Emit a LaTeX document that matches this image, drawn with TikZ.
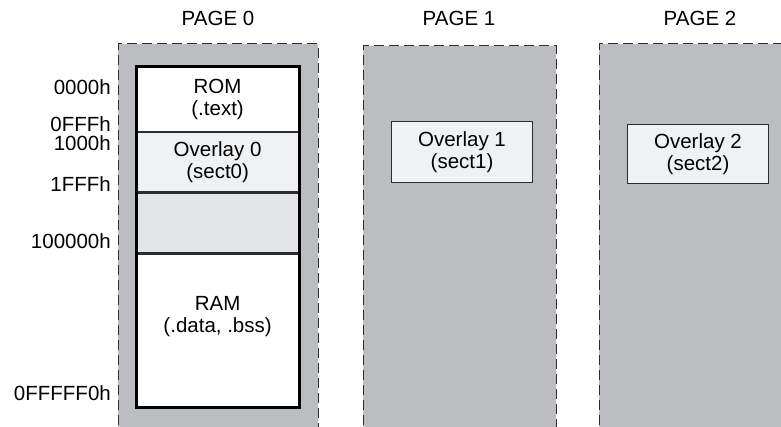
\documentclass[tikz,border=0pt]{standalone}
\usepackage{fontspec}
\setmainfont{Liberation Sans}
\usetikzlibrary{positioning}

\definecolor{pagegray}{RGB}{188,189,193}
\definecolor{ovlgray}{RGB}{240,241,243}
\definecolor{gapgray}{RGB}{228,229,231}
\definecolor{edgegray}{RGB}{45,45,45}

\tikzset{
  txt/.style={font=\fontsize{20.5}{22.5}\selectfont, align=center, inner sep=0pt},
  pageedge/.style={draw=edgegray, line width=1pt, dash pattern=on 10pt off 5pt},
  section/.style={txt, draw=edgegray, line width=1.2pt, minimum width=162pt},
  ovlbox/.style={txt, draw=edgegray, line width=1pt, fill=ovlgray,
    minimum width=141pt, minimum height=61pt},
  addr/.style={txt, anchor=east},
}

\begin{document}
\begin{tikzpicture}[x=1pt,y=-1pt]
\useasboundingbox (0,0) rectangle (781,427);

% pages
\fill[pagegray] (118,44) rectangle (318,440);
\draw[pageedge] (118,440) -- (118,44) -- (318,44) -- (318,440);
\fill[pagegray] (363,46) rectangle (556,440);
\draw[pageedge] (363,440) -- (363,46) -- (556,46) -- (556,440);
\fill[pagegray] (599,44) rectangle (799,440);
\draw[pageedge] (599,440) -- (599,44) -- (799,44) -- (799,440);

\node[txt] (page0) at (218,18) {PAGE 0};
\node[txt] (page1) at (459,18) {PAGE 1};
\node[txt] (page2) at (700,18) {PAGE 2};

% page 0 memory map
\node[section, fill=white, minimum height=64pt, anchor=north west] (rom) at (136,67) {ROM\\(.text)};
\node[section, fill=ovlgray, minimum height=59pt, below=0pt of rom] (sect0) {Overlay 0\\(sect0)};
\node[section, fill=gapgray, minimum height=60pt, below=0pt of sect0] (gap) {};
\node[section, fill=white, minimum height=153pt, below=0pt of gap] (ram) {};
\node[txt] (ramtext) at ([yshift=14pt]ram.center) {RAM\\(.data, .bss)};
\draw[line width=3pt] (rom.north west) rectangle (ram.south east);

% addresses
\node[addr] (a0) at (111,87) {0000h};
\node[addr] (a1) at (111,124) {0FFFh};
\node[addr] (a2) at (111,143) {1000h};
\node[addr] (a3) at (111,184) {1FFFh};
\node[addr] (a4) at (111,241) {100000h};
\node[addr] (a5) at (111,393) {0FFFFF0h};

% overlays
\node[ovlbox, anchor=north west] (sect1) at (391,121) {Overlay 1\\(sect1)};
\node[ovlbox, minimum height=59pt, anchor=north west] (sect2) at (627,124) {Overlay 2\\(sect2)};
\end{tikzpicture}
\end{document}
